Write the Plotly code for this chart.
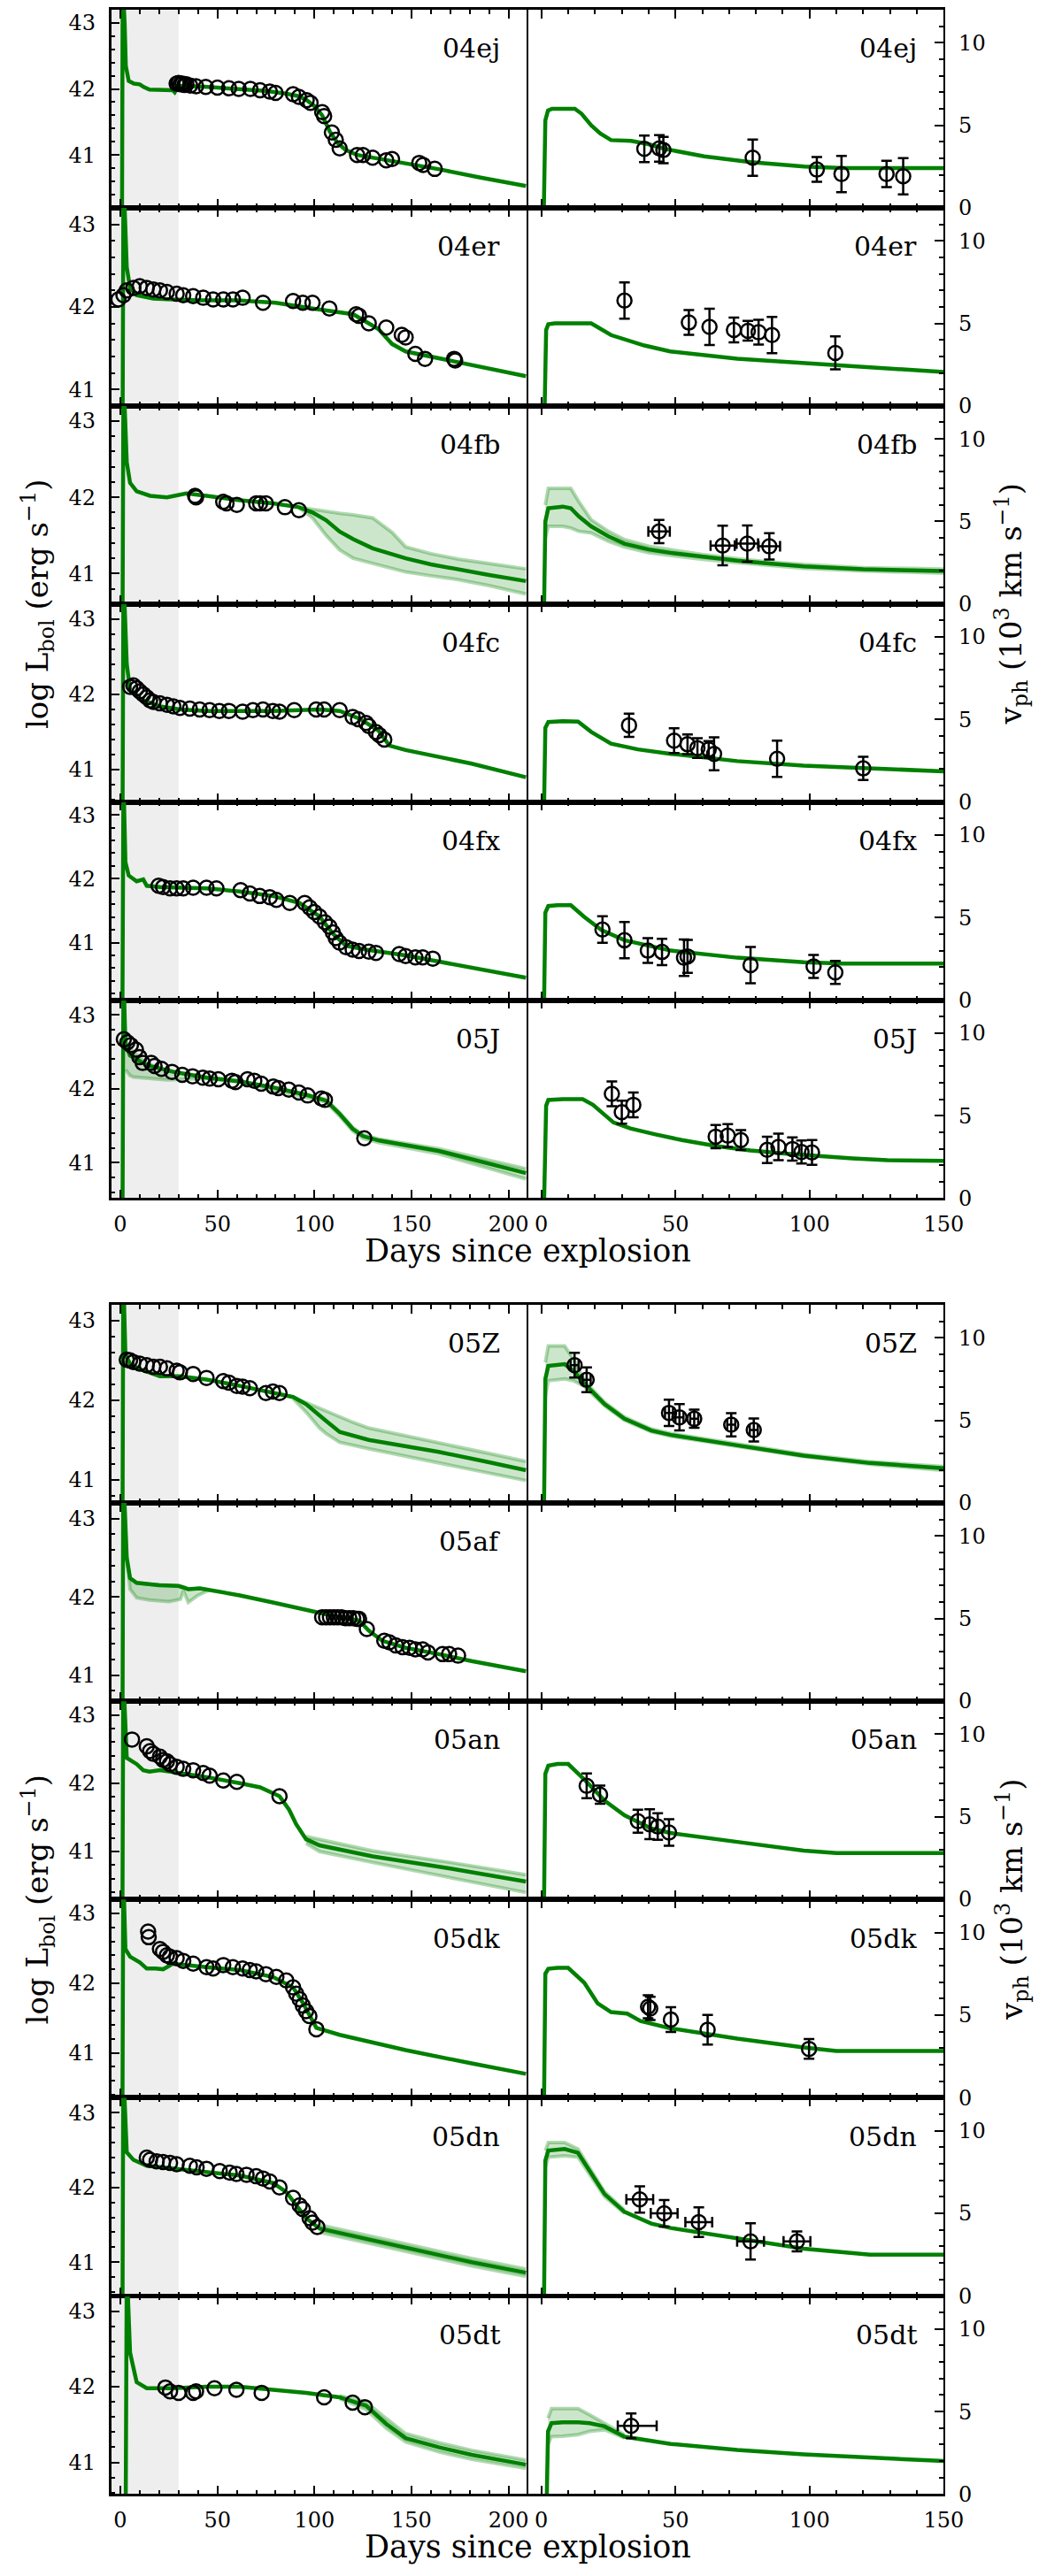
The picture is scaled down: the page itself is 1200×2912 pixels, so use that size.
import plotly.graph_objects as go

W, H = 1200, 2912
GREEN = "#008000"
FONT = "DejaVu Serif"

SN_NAMES = ["04ej", "04er", "04fb", "04fc", "04fx", "05J",
            "05Z", "05af", "05an", "05dk", "05dn", "05dt"]
LUM_BOTTOM = [40.2, 40.8, 40.6, 40.57, 40.1, 40.52, 40.71, 40.67, 40.3, 40.36, 40.55, 40.58]
LUM_TOP = 43.2
VEL_RANGE = [0, 12]
DAY_TICKS_L = [0, 50, 100, 150, 200]
DAY_TICKS_R = [0, 50, 100, 150]

# ---------------- 04ej
sn04ej_lc_t = [0.8, 1.2, 2.2, 2.8, 4.3, 7, 10, 12, 15, 20, 27, 28, 30, 45, 55, 65, 75, 85, 92, 96, 100,
               104, 108, 112, 116, 122, 130, 140, 150, 165, 185, 209]
sn04ej_lc = [39.5, 43.6, 43.0, 42.35, 42.12, 42.08, 42.07, 42.03, 41.99, 41.99, 41.98, 41.95, 42.05, 42.03,
             42.01, 42.0, 41.97, 41.93, 41.89, 41.83, 41.74, 41.6, 41.35, 41.18, 41.08, 41.0, 40.96, 40.92,
             40.87, 40.78, 40.66, 40.53]
sn04ej_obs_t = [29, 30, 31, 32, 33, 34, 36, 39, 44, 50, 56, 61, 67, 72, 77, 80, 89, 92, 96, 98, 104, 105,
                109, 111, 113, 122, 125, 130, 137, 140, 154, 156, 162]
sn04ej_obs = [42.08, 42.09, 42.07, 42.08, 42.06, 42.07, 42.05, 42.04, 42.03, 42.02, 42.01, 42.0, 42.0,
              41.98, 41.96, 41.94, 41.92, 41.88, 41.83, 41.79, 41.65, 41.59, 41.34, 41.23, 41.1, 41.0,
              41.0, 40.96, 40.92, 40.94, 40.88, 40.85, 40.79]
sn04ej_vm_t = [0.9, 1.5, 2.5, 4, 12.5, 15, 18.6, 22, 26, 33.5, 40, 46, 60.7, 78, 98, 112.6, 150]
sn04ej_vm = [-0.5, 5.3, 5.9, 6.0, 6.0, 5.7, 5.0, 4.5, 4.1, 4.05, 3.85, 3.57, 3.12, 2.77, 2.5, 2.41, 2.41]
sn04ej_vo_t = [38.4, 44, 45.5, 78.8, 102.7, 111.9, 128.7, 134.9]
sn04ej_vo = [3.57, 3.6, 3.5, 3.04, 2.32, 2.05, 2.05, 1.91]
sn04ej_vo_err = [0.8, 0.8, 0.8, 1.1, 0.75, 1.1, 0.8, 1.1]

# ---------------- 04er
sn04er_lc_t = [1.0, 1.6, 3.3, 5, 8.4, 17, 27, 40, 60, 80, 99, 120, 133, 140, 147, 161, 181, 209]
sn04er_lc = [39.5, 43.6, 42.48, 42.23, 42.14, 42.1, 42.09, 42.08, 42.08, 42.05, 41.98, 41.91, 41.73,
             41.55, 41.46, 41.39, 41.29, 41.16]
sn04er_obs_t = [-1, 1.6, 3.3, 6.7, 10, 13.6, 17, 20.4, 24, 29, 32.4, 37.5, 42.7, 47.8, 53, 58, 63, 73.5,
                89, 94, 99, 107.7, 121.5, 123, 128, 137, 145, 147, 152, 157, 172, 172.5]
sn04er_obs = [42.09, 42.14, 42.2, 42.23, 42.25, 42.23, 42.21, 42.2, 42.18, 42.16, 42.14, 42.13, 42.11,
              42.09, 42.09, 42.09, 42.11, 42.05, 42.07, 42.05, 42.05, 41.98, 41.91, 41.89, 41.8, 41.75,
              41.66, 41.63, 41.43, 41.37, 41.37, 41.35]
sn04er_vm_t = [1.2, 1.8, 2.6, 5, 18.6, 26, 38.4, 48, 73, 98, 122.5, 150]
sn04er_vm = [-0.5, 4.6, 4.95, 5.0, 5.0, 4.29, 3.66, 3.3, 2.86, 2.59, 2.32, 2.05]
sn04er_vo_t = [31, 55, 62.7, 71.8, 77, 81, 86, 109.6]
sn04er_vo = [6.38, 5.05, 4.79, 4.6, 4.55, 4.46, 4.29, 3.21]
sn04er_vo_err = [1.1, 0.75, 1.1, 0.75, 0.6, 0.75, 1.1, 1.0]

# ---------------- 04fb
sn04fb_lc_t = [1.0, 1.6, 3.3, 5, 8.4, 15.3, 24, 34, 44.4, 61.5, 78.6, 92, 99, 106, 113, 120, 130, 140,
               147, 160, 174, 190, 209]
sn04fb_lc = [39.5, 43.6, 42.46, 42.19, 42.08, 42.02, 42.0, 42.05, 42.02, 41.96, 41.92, 41.87, 41.8, 41.7,
             41.55, 41.45, 41.33, 41.25, 41.2, 41.12, 41.05, 40.98, 40.9]
sn04fb_lcb_t = [92, 99, 106, 113, 120, 130, 140, 147, 160, 174, 190, 209]
sn04fb_lcb_hi = [41.87, 41.84, 41.81, 41.79, 41.77, 41.73, 41.54, 41.35, 41.26, 41.19, 41.13, 41.06]
sn04fb_lcb_lo = [41.86, 41.73, 41.5, 41.31, 41.2, 41.13, 41.06, 41.02, 40.97, 40.92, 40.84, 40.73]
sn04fb_obs_t = [38.5, 39, 53, 54.7, 60, 70, 72, 75, 84.8, 92]
sn04fb_obs = [42.02, 42.0, 41.94, 41.92, 41.9, 41.92, 41.92, 41.92, 41.87, 41.83]
sn04fb_vm_t = [1.0, 1.5, 2.6, 8, 11, 14, 18.6, 25, 31, 40, 48, 60, 73, 85, 98, 120, 150]
sn04fb_vm = [-0.5, 5.0, 5.8, 5.9, 5.8, 5.3, 4.7, 4.1, 3.65, 3.3, 3.1, 2.85, 2.62, 2.45, 2.28, 2.1, 2.0]
sn04fb_vmb_t = [1.5, 2.6, 8, 11, 14, 18.6, 25, 31, 40, 48, 60, 73, 85, 98, 120, 150]
sn04fb_vmb_hi = [6.0, 7.0, 7.0, 7.0, 6.2, 5.1, 4.4, 3.9, 3.5, 3.3, 3.0, 2.75, 2.55, 2.4, 2.2, 2.12]
sn04fb_vmb_lo = [4.0, 4.7, 4.7, 4.6, 4.4, 4.3, 3.8, 3.45, 3.1, 2.92, 2.7, 2.5, 2.35, 2.15, 2.0, 1.86]
sn04fb_vo_t = [43.9, 67.6, 76.8, 85]
sn04fb_vo = [4.39, 3.54, 3.66, 3.49]
sn04fb_vo_err = [0.7, 1.2, 1.1, 0.8]
sn04fb_vo_xerr = [4, 4.5, 4, 4]

# ---------------- 04fc
sn04fc_lc_t = [1.0, 1.6, 3.3, 5, 10, 20.4, 30.7, 44.4, 78.6, 102.6, 113, 123, 133, 138.6, 147, 181, 209]
sn04fc_lc = [39.5, 43.6, 42.4, 42.06, 41.94, 41.84, 41.8, 41.78, 41.78, 41.8, 41.78, 41.68, 41.52, 41.32,
             41.26, 41.08, 40.9]
sn04fc_obs_t = [5, 6.7, 8.4, 10, 11.8, 13.6, 15.3, 17, 20.4, 24, 27.3, 30.7, 35.8, 40.9, 46, 51, 56, 63,
                68.3, 73.5, 78.6, 82, 89.6, 100.9, 105, 113, 119.7, 122.5, 126.6, 128, 131.7, 133.4, 136]
sn04fc_obs = [42.1, 42.12, 42.08, 42.04, 42.0, 41.96, 41.92, 41.9, 41.88, 41.86, 41.84, 41.82, 41.81, 41.8,
              41.79, 41.78, 41.78, 41.77, 41.79, 41.8, 41.78, 41.77, 41.79, 41.8, 41.8, 41.79, 41.7, 41.67,
              41.62, 41.58, 41.5, 41.46, 41.4]
sn04fc_vm_t = [1.0, 1.5, 2.6, 8, 13.7, 18.6, 26, 36, 48.3, 73, 97.8, 122.5, 150]
sn04fc_vm = [-0.5, 4.5, 4.85, 4.9, 4.87, 4.25, 3.54, 3.19, 2.92, 2.48, 2.21, 2.04, 1.86]
sn04fc_vo_t = [32.7, 49.5, 54.5, 58.2, 62.4, 64.4, 87.9, 120]
sn04fc_vo = [4.65, 3.72, 3.5, 3.27, 3.19, 2.92, 2.62, 2.04]
sn04fc_vo_err = [0.7, 0.75, 0.6, 0.6, 0.5, 1.0, 1.1, 0.7]

# ---------------- 04fx
sn04fx_lc_t = [1.0, 1.6, 2.6, 4.3, 8.4, 11.8, 13.6, 20.4, 44.4, 61.5, 78.6, 92.4, 102.6, 109.5, 116.3,
               126.6, 147, 164, 209]
sn04fx_lc = [39.5, 43.6, 42.26, 42.05, 41.96, 41.99, 41.89, 41.87, 41.85, 41.8, 41.73, 41.62, 41.41,
             41.14, 40.95, 40.89, 40.8, 40.7, 40.45]
sn04fx_obs_t = [19.7, 22, 25.6, 29, 32.4, 37.5, 44.4, 49.5, 62, 66.7, 71.8, 77, 80.4, 87.3, 95, 97.5,
                99.9, 102.6, 105.4, 107.7, 109.5, 111, 112.9, 116.3, 119.7, 123, 128, 131.7, 143.7, 147,
                152, 155.8, 161]
sn04fx_obs = [41.89, 41.87, 41.85, 41.85, 41.85, 41.86, 41.86, 41.85, 41.82, 41.77, 41.73, 41.71, 41.67,
              41.62, 41.62, 41.55, 41.48, 41.41, 41.32, 41.25, 41.16, 41.07, 41.0, 40.93, 40.89, 40.87,
              40.86, 40.84, 40.82, 40.79, 40.77, 40.77, 40.75]
sn04fx_vm_t = [1.0, 1.5, 2.6, 6, 11, 16, 22.4, 31, 48.3, 73, 97.8, 112.6, 150]
sn04fx_vm = [-0.5, 5.3, 5.7, 5.75, 5.75, 5.04, 4.25, 3.63, 3.0, 2.57, 2.3, 2.21, 2.21]
sn04fx_vo_t = [22.8, 31, 39.7, 45, 53.2, 54.5, 78, 101.5, 109.6]
sn04fx_vo = [4.28, 3.63, 3.0, 2.92, 2.57, 2.65, 2.12, 2.04, 1.68]
sn04fx_vo_err = [0.8, 1.1, 0.75, 0.8, 1.1, 1.0, 1.1, 0.7, 0.7]

# ---------------- 05J
sn05J_lc_t = [1.0, 1.6, 2.6, 5, 13.6, 27.3, 44.4, 61.5, 78.6, 95.7, 106, 113, 119.7, 125, 133.4, 164, 209]
sn05J_lc = [39.5, 43.6, 42.6, 42.45, 42.32, 42.23, 42.15, 42.1, 42.02, 41.92, 41.84, 41.66, 41.46, 41.36,
            41.3, 41.16, 40.86]
sn05J_lcb_t = [2.6, 5, 6.7, 13.6, 24, 44.4, 61.5, 106, 113, 119.7, 125, 133.4, 164, 209]
sn05J_lcb_hi = [42.66, 42.55, 42.5, 42.34, 42.25, 42.16, 42.11, 41.86, 41.68, 41.48, 41.38, 41.32, 41.19, 40.92]
sn05J_lcb_lo = [42.26, 42.18, 42.16, 42.14, 42.12, 42.14, 42.09, 41.82, 41.63, 41.43, 41.33, 41.27, 41.12, 40.78]
sn05J_obs_t = [1.8, 3.6, 5.4, 8.0, 9.8, 11.5, 15.9, 17.6, 21.2, 26.6, 31.9, 37.2, 42.5, 46, 50.5, 57.5,
               59.3, 65.5, 69, 72.6, 78.8, 81.4, 86.8, 92, 96.5, 103.6, 105.4, 125.7]
sn05J_obs = [42.67, 42.63, 42.59, 42.53, 42.43, 42.35, 42.35, 42.31, 42.27, 42.23, 42.19, 42.17, 42.15,
             42.14, 42.13, 42.11, 42.09, 42.13, 42.11, 42.07, 42.03, 42.01, 41.99, 41.95, 41.91, 41.87,
             41.85, 41.33]
sn05J_vm_t = [1.0, 1.3, 1.8, 2.6, 8, 15.4, 19.2, 26.9, 33.2, 42.2, 52.4, 65.1, 77.9, 90.7, 103.5, 116, 129, 150]
sn05J_vm = [-0.5, 3.0, 5.6, 5.95, 6.0, 6.0, 5.66, 4.59, 4.23, 3.88, 3.52, 3.16, 2.89, 2.71, 2.54, 2.41, 2.3, 2.27]
sn05J_vo_t = [26.3, 30, 34.3, 65, 69.5, 74.4, 84.2, 88.4, 93.6, 97, 100.9]
sn05J_vo = [6.32, 5.21, 5.66, 3.73, 3.79, 3.52, 2.93, 3.11, 2.98, 2.8, 2.77]
sn05J_vo_err = [0.75, 0.7, 0.75, 0.7, 0.7, 0.6, 0.8, 0.8, 0.7, 0.7, 0.75]

# ---------------- 05Z
sn05Z_lc_t = [1.0, 1.5, 2.6, 5, 10, 20.4, 30.7, 44.4, 61.5, 78.6, 89, 95.7, 102.6, 106, 113, 120, 128, 140,
              164, 190, 209]
sn05Z_lc = [39.5, 43.6, 42.57, 42.46, 42.39, 42.3, 42.3, 42.26, 42.18, 42.09, 42.04, 41.95, 41.8, 41.74,
            41.6, 41.55, 41.5, 41.45, 41.35, 41.22, 41.12]
sn05Z_lcb_t = [89, 95.7, 102.6, 106, 113, 120, 128, 140, 164, 190, 209]
sn05Z_lcb_hi = [42.04, 41.97, 41.91, 41.87, 41.8, 41.72, 41.65, 41.59, 41.47, 41.33, 41.23]
sn05Z_lcb_lo = [42.02, 41.85, 41.65, 41.58, 41.47, 41.43, 41.39, 41.33, 41.21, 41.08, 40.99]
sn05Z_obs_t = [3.3, 5, 6.7, 10, 13.6, 17, 20.4, 24, 29, 30.7, 37.5, 44.4, 53, 56, 60, 63, 66.7, 75, 78.6, 82]
sn05Z_obs = [42.51, 42.5, 42.48, 42.46, 42.44, 42.42, 42.42, 42.4, 42.37, 42.35, 42.33, 42.28, 42.24,
             42.22, 42.18, 42.17, 42.15, 42.09, 42.11, 42.09]
sn05Z_vm_t = [1.0, 1.5, 2.6, 8.7, 12, 16, 23.6, 31, 41, 48.3, 73, 97.8, 122.5, 150]
sn05Z_vm = [-0.5, 7.5, 8.3, 8.4, 8.0, 7.23, 5.98, 5.09, 4.38, 4.11, 3.48, 2.86, 2.41, 2.1]
sn05Z_vmb_t = [1.5, 2.6, 8.7, 12, 16, 23.6, 31, 41, 48.3, 73, 97.8, 122.5, 150]
sn05Z_vmb_hi = [8.5, 9.5, 9.5, 8.7, 7.4, 6.1, 5.2, 4.48, 4.2, 3.56, 2.94, 2.5, 2.2]
sn05Z_vmb_lo = [6.5, 7.4, 7.5, 7.4, 7.05, 5.88, 5.0, 4.3, 4.03, 3.42, 2.8, 2.34, 1.96]
sn05Z_vo_t = [12.4, 16.9, 47.6, 51.5, 57, 70.8, 79.2]
sn05Z_vo = [8.34, 7.45, 5.45, 5.18, 5.09, 4.73, 4.41]
sn05Z_vo_err = [0.75, 0.75, 0.8, 0.8, 0.55, 0.7, 0.7]
sn05Z_vo_xerr = [1.5, 1.5, 1.5, 1.5, 1.5, 1.5, 1.5]

# ---------------- 05af (no velocities)
sn05af_lc_t = [1.0, 1.5, 3.3, 5, 8.4, 20, 30, 35, 41, 61.5, 78.6, 99, 113, 123, 128, 135, 147, 164, 181, 209]
sn05af_lc = [39.5, 43.6, 42.5, 42.24, 42.18, 42.15, 42.14, 42.1, 42.11, 42.02, 41.93, 41.81, 41.74, 41.7,
             41.57, 41.44, 41.35, 41.27, 41.18, 41.05]
sn05af_lcb_t = [3.5, 5, 8.4, 15, 25, 31, 32.5, 35, 40, 46]
sn05af_lcb_hi = [42.45, 42.24, 42.18, 42.16, 42.15, 42.14, 42.13, 42.1, 42.11, 42.09]
sn05af_lcb_lo = [42.45, 42.1, 41.99, 41.96, 41.94, 41.97, 42.08, 41.93, 42.02, 42.09]
sn05af_obs_t = [104, 106, 108, 110, 112, 114, 116, 118, 120, 122, 123, 127, 136, 138.6, 142, 145.4, 149,
                152, 155.8, 158.5, 166, 169.4, 174]
sn05af_obs = [41.74, 41.74, 41.74, 41.74, 41.74, 41.74, 41.73, 41.73, 41.73, 41.72, 41.72, 41.59, 41.44,
              41.42, 41.38, 41.36, 41.35, 41.33, 41.33, 41.29, 41.27, 41.27, 41.25]

# ---------------- 05an
sn05an_lc_t = [1.0, 1.5, 3.3, 8.4, 11.8, 15, 20.4, 30.7, 44.4, 61.5, 72, 82, 87, 90.6, 95.7, 102.6, 130, 170, 209]
sn05an_lc = [39.5, 43.6, 42.37, 42.28, 42.19, 42.17, 42.19, 42.15, 42.09, 42.0, 41.94, 41.81, 41.61, 41.4,
             41.18, 41.09, 40.93, 40.75, 40.56]
sn05an_lcb_t = [95.7, 102.6, 130, 170, 209]
sn05an_lcb_hi = [41.22, 41.18, 41.01, 40.84, 40.66]
sn05an_lcb_lo = [41.12, 41.0, 40.84, 40.62, 40.4]
sn05an_obs_t = [6, 13.6, 15.3, 17, 20.4, 22, 24, 25.6, 29, 32.4, 37.5, 42.7, 46, 53, 60, 82]
sn05an_obs = [42.64, 42.54, 42.47, 42.43, 42.39, 42.34, 42.32, 42.28, 42.24, 42.21, 42.19, 42.15, 42.11,
              42.04, 42.02, 41.81]
sn05an_vm_t = [1.0, 1.5, 2.6, 6, 10, 16.2, 23.6, 31, 41, 48, 73, 97.8, 110, 150]
sn05an_vm = [-0.5, 7.6, 8.1, 8.2, 8.2, 7.23, 5.98, 5.09, 4.29, 4.02, 3.48, 2.95, 2.8, 2.8]
sn05an_vo_t = [16.9, 21.9, 36, 40.4, 43.4, 47.6]
sn05an_vo = [6.88, 6.34, 4.73, 4.55, 4.41, 4.05]
sn05an_vo_err = [0.75, 0.55, 0.7, 0.9, 0.8, 0.8]

# ---------------- 05dk
sn05dk_lc_t = [1.0, 1.5, 2.6, 5, 10, 13.6, 18, 22, 24, 27, 44.4, 61.5, 78.6, 89, 94, 97.4, 101, 113, 147, 181, 209]
sn05dk_lc = [39.5, 43.6, 42.49, 42.38, 42.3, 42.21, 42.21, 42.2, 42.23, 42.28, 42.23, 42.19, 42.09, 41.94,
             41.72, 41.55, 41.36, 41.26, 41.04, 40.85, 40.7]
sn05dk_obs_t = [14.3, 14.6, 20.4, 22, 24, 25.6, 29, 32.4, 37.5, 44.4, 47.8, 53, 58, 63, 66.7, 70, 75, 80.4,
                85.5, 89, 90.6, 92.4, 94, 95.7, 97.4, 101]
sn05dk_obs = [42.74, 42.66, 42.49, 42.45, 42.4, 42.38, 42.36, 42.32, 42.28, 42.23, 42.21, 42.26, 42.23,
              42.21, 42.19, 42.17, 42.13, 42.09, 42.04, 41.94, 41.85, 41.77, 41.68, 41.6, 41.53, 41.34]
sn05dk_vm_t = [1.0, 1.5, 2.6, 6, 10, 16, 21, 26, 32, 37, 48, 73, 97.8, 110, 150]
sn05dk_vm = [-0.5, 7.5, 7.8, 7.86, 7.86, 6.96, 5.71, 5.18, 5.09, 4.64, 4.2, 3.57, 3.04, 2.82, 2.82]
sn05dk_vo_t = [39.8, 40.6, 48.3, 62, 99.8]
sn05dk_vo = [5.5, 5.4, 4.73, 4.11, 2.95]
sn05dk_vo_err = [0.7, 0.7, 0.75, 0.9, 0.6]

# ---------------- 05dn
sn05dn_lc_t = [1.0, 1.5, 3.3, 6.7, 13.6, 27.3, 44.4, 61.5, 78.6, 85.5, 89, 92.4, 95.7, 102.6, 113, 147, 181, 209]
sn05dn_lc = [39.5, 43.6, 42.47, 42.37, 42.29, 42.25, 42.2, 42.16, 42.06, 41.94, 41.82, 41.71, 41.59, 41.45,
             41.39, 41.2, 41.0, 40.86]
sn05dn_lcb_t = [102.6, 113, 147, 181, 209]
sn05dn_lcb_hi = [41.5, 41.44, 41.25, 41.05, 40.91]
sn05dn_lcb_lo = [41.4, 41.34, 41.15, 40.95, 40.81]
sn05dn_obs_t = [13.6, 15.3, 18.7, 22, 25.6, 29, 35.8, 39.3, 44.4, 51.2, 56.3, 59.8, 65, 70, 73.5, 77, 82,
                89, 92.4, 94, 97.5, 99, 101.5]
sn05dn_obs = [42.4, 42.37, 42.35, 42.34, 42.33, 42.31, 42.29, 42.27, 42.25, 42.22, 42.2, 42.18, 42.17,
              42.15, 42.12, 42.08, 42.0, 41.86, 41.76, 41.71, 41.59, 41.53, 41.47]
sn05dn_vm_t = [1.0, 1.5, 2.6, 8.7, 13.7, 18.6, 23.6, 31, 41, 48.3, 73, 97.8, 122.5, 150]
sn05dn_vm = [-0.5, 8.2, 8.8, 8.9, 8.66, 7.41, 6.16, 5.09, 4.38, 4.11, 3.48, 2.86, 2.5, 2.5]
sn05dn_vmb_t = [1.5, 2.6, 8.7, 13.7, 18.6, 23.6, 31]
sn05dn_vmb_hi = [8.8, 9.29, 9.29, 8.9, 7.6, 6.3, 5.2]
sn05dn_vmb_lo = [7.8, 8.4, 8.48, 8.4, 7.2, 6.0, 5.0]
sn05dn_vo_t = [36.7, 45.8, 58.7, 78, 95.3]
sn05dn_vo = [5.84, 5.0, 4.46, 3.3, 3.3]
sn05dn_vo_err = [0.8, 0.8, 0.9, 1.1, 0.6]
sn05dn_vo_xerr = [5, 5, 5, 5, 5]

# ---------------- 05dt
sn05dt_lc_t = [2.6, 3.3, 5, 8.4, 13.6, 27.3, 44.4, 61.5, 78.6, 95.7, 113, 126.6, 137, 147, 164, 181, 209]
sn05dt_lc = [39.5, 43.6, 42.45, 42.06, 41.98, 41.98, 42.0, 42.0, 41.96, 41.92, 41.86, 41.75, 41.51, 41.32,
             41.2, 41.1, 40.97]
sn05dt_lcb_t = [113, 126.6, 137, 147, 164, 181, 209]
sn05dt_lcb_hi = [41.88, 41.8, 41.58, 41.38, 41.26, 41.16, 41.03]
sn05dt_lcb_lo = [41.84, 41.7, 41.45, 41.27, 41.14, 41.04, 40.92]
sn05dt_obs_t = [23.2, 25.6, 30, 37.5, 39, 48.5, 59.8, 72.8, 105, 119.7, 126]
sn05dt_obs = [41.99, 41.94, 41.92, 41.92, 41.94, 41.98, 41.96, 41.92, 41.86, 41.79, 41.73]
sn05dt_vm_t = [2.0, 2.5, 3.8, 8, 13.7, 18, 23.6, 31, 48.3, 73, 97.8, 122.5, 150]
sn05dt_vm = [-0.5, 3.8, 4.3, 4.35, 4.35, 4.3, 4.1, 3.48, 3.04, 2.68, 2.41, 2.23, 2.0]
sn05dt_vmb_t = [2.5, 3.8, 8, 13.7, 18, 23.6, 31]
sn05dt_vmb_hi = [4.6, 5.18, 5.18, 5.18, 4.8, 4.3, 3.6]
sn05dt_vmb_lo = [3.0, 3.48, 3.5, 3.6, 3.8, 3.9, 3.4]
sn05dt_vo_t = [33.5]
sn05dt_vo = [4.14]
sn05dt_vo_err = [0.75]
sn05dt_vo_xerr = [9.5]
sn05dt_vo_xerr_minus = [5]

# ---------------- layout (pixels)
ROW_H = 225
ROW_TOPS = [3 + ROW_H * i for i in range(6)] + [1474 + 225.2 * i for i in range(6)]
XL = (120, 600)
XR = (600, 1079)
DAY_RANGE_L = [-4.7, 210]
DAY_RANGE_R = [-5, 150]
SHADE_END = 30

fig = go.Figure()
axes = {}
shapes = []
annots = []


def ref(n):
    return ("x" if n == 1 else f"x{n}"), ("y" if n == 1 else f"y{n}")


def band(t, lo, hi, xr, yr):
    fig.add_trace(go.Scatter(x=t, y=hi, mode="lines", xaxis=xr, yaxis=yr, hoverinfo="skip",
                             line=dict(color="rgba(0,128,0,0.3)", width=4)))
    fig.add_trace(go.Scatter(x=t, y=lo, mode="lines", xaxis=xr, yaxis=yr, hoverinfo="skip",
                             line=dict(color="rgba(0,128,0,0.3)", width=4),
                             fill="tonexty", fillcolor="rgba(0,128,0,0.2)"))


tick_font = dict(family=FONT, size=24, color="black")
common = dict(showline=True, linecolor="black", linewidth=2.5, ticks="inside", ticklen=10,
              tickwidth=2, tickcolor="black", showgrid=False, zeroline=False, tickfont=tick_font)

for k, name in enumerate(SN_NAMES):
    g = lambda key: globals().get(f"sn{name}_{key}")
    top = ROW_TOPS[k]
    bot = top + ROW_H
    ydom = [1 - bot / H, 1 - top / H]
    last_in_group = k in (5, 11)
    nl, nr = 2 * k + 1, 2 * k + 2
    xl, yl = ref(nl)
    xr, yr = ref(nr)

    # luminosity panel
    if g("lcb_t"):
        band(g("lcb_t"), g("lcb_lo"), g("lcb_hi"), xl, yl)
    fig.add_trace(go.Scatter(x=g("lc_t"), y=g("lc"), mode="lines", xaxis=xl, yaxis=yl,
                             line=dict(color=GREEN, width=4.5), hoverinfo="skip"))
    fig.add_trace(go.Scatter(x=g("obs_t"), y=g("obs"), mode="markers", xaxis=xl, yaxis=yl,
                             marker=dict(symbol="circle-open", size=16, color="black",
                                         line=dict(width=2.5))))
    # velocity panel
    if g("vm_t"):
        if g("vmb_t"):
            band(g("vmb_t"), g("vmb_lo"), g("vmb_hi"), xr, yr)
        fig.add_trace(go.Scatter(x=g("vm_t"), y=g("vm"), mode="lines", xaxis=xr, yaxis=yr,
                                 line=dict(color=GREEN, width=4.5), hoverinfo="skip"))
        err_x = None
        if g("vo_xerr"):
            err_x = dict(type="data", array=g("vo_xerr"), color="black", thickness=2.5, width=6)
            if g("vo_xerr_minus"):
                err_x["arrayminus"] = g("vo_xerr_minus")
                err_x["symmetric"] = False
        fig.add_trace(go.Scatter(x=g("vo_t"), y=g("vo"), mode="markers", xaxis=xr, yaxis=yr,
                                 marker=dict(symbol="circle-open", size=16, color="black",
                                             line=dict(width=2.5)),
                                 error_y=dict(type="data", array=g("vo_err"), color="black",
                                              thickness=2.5, width=6),
                                 error_x=err_x))
        annots.append(dict(text=name, xref="paper", yref="paper", x=(XR[1] - 29) / W,
                           y=1 - (top + 44) / H, xanchor="right", yanchor="middle",
                           showarrow=False, font=dict(family=FONT, size=30, color="black")))
    else:
        # empty panel still shows its frame and ticks
        fig.add_trace(go.Scatter(x=[None], y=[None], mode="markers", xaxis=xr, yaxis=yr,
                                 hoverinfo="skip"))
    annots.append(dict(text=name, xref="paper", yref="paper", x=(XL[1] - 30) / W,
                       y=1 - (top + 44) / H, xanchor="right", yanchor="middle",
                       showarrow=False, font=dict(family=FONT, size=30, color="black")))

    shapes.append(dict(type="rect", xref=xl, yref=f"{yl} domain", x0=DAY_RANGE_L[0], x1=SHADE_END,
                       y0=0, y1=1, fillcolor="#eeeeee", line=dict(width=0), layer="below"))

    kx = lambda n: "xaxis" if n == 1 else f"xaxis{n}"
    ky = lambda n: "yaxis" if n == 1 else f"yaxis{n}"
    axes[kx(nl)] = dict(common, domain=[XL[0] / W, XL[1] / W], anchor=yl, range=DAY_RANGE_L,
                        tickvals=DAY_TICKS_L, mirror="allticks", showticklabels=last_in_group,
                        ticklabelstandoff=6,
                        minor=dict(ticks="inside", ticklen=5, tickwidth=2, tickcolor="black",
                                   tick0=0, dtick=10))
    axes[kx(nr)] = dict(common, domain=[XR[0] / W, XR[1] / W], anchor=yr, range=DAY_RANGE_R,
                        tickvals=DAY_TICKS_R, mirror="allticks", showticklabels=last_in_group,
                        ticklabelstandoff=6,
                        minor=dict(ticks="inside", ticklen=5, tickwidth=2, tickcolor="black",
                                   tick0=0, dtick=10))
    axes[ky(nl)] = dict(common, domain=ydom, anchor=xl, range=[LUM_BOTTOM[k], LUM_TOP],
                        tick0=41, dtick=1, mirror=False, ticklabelstandoff=10,
                        minor=dict(ticks="inside", ticklen=5, tickwidth=2, tickcolor="black",
                                   tick0=41, dtick=0.2))
    axes[ky(nr)] = dict(common, domain=ydom, anchor=xr, range=VEL_RANGE, side="right",
                        tick0=0, dtick=5, mirror=True, ticklabelstandoff=10,
                        minor=dict(ticks="inside", ticklen=5, tickwidth=2, tickcolor="black",
                                   tick0=0, dtick=1))
    axes[ky(nr)]["linewidth"] = 2

# axis titles
for g0, g1 in ((ROW_TOPS[0], ROW_TOPS[5] + ROW_H), (ROW_TOPS[6], ROW_TOPS[11] + ROW_H)):
    yc = 1 - (g0 + g1) / 2 / H
    annots.append(dict(text="log L<sub>bol</sub> (erg s<sup>−1</sup>)", xref="paper", yref="paper",
                       x=35 / W, y=yc, textangle=-90, showarrow=False, xanchor="center",
                       yanchor="middle", font=dict(family=FONT, size=34, color="black")))
    annots.append(dict(text="v<sub>ph</sub> (10<sup>3</sup> km s<sup>−1</sup>)", xref="paper",
                       yref="paper", x=1157 / W, y=yc, textangle=-90, showarrow=False,
                       xanchor="center", yanchor="middle",
                       font=dict(family=FONT, size=34, color="black")))
    annots.append(dict(text="Days since explosion", xref="paper", yref="paper", x=0.5,
                       y=1 - (g1 + 60) / H, showarrow=False, xanchor="center", yanchor="middle",
                       font=dict(family=FONT, size=35, color="black")))

fig.update_layout(width=W, height=H, margin=dict(l=0, r=0, t=0, b=0), showlegend=False,
                  plot_bgcolor="white", paper_bgcolor="white",
                  font=dict(family=FONT, color="black"),
                  shapes=shapes, annotations=annots, **axes)

fig.write_html("out.html")
